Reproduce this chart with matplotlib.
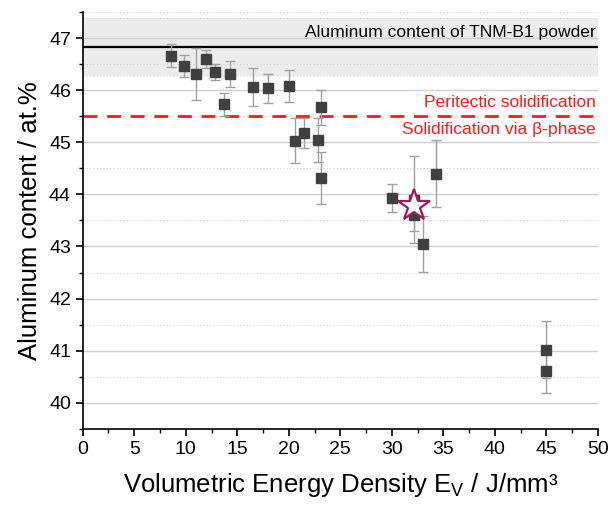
import numpy as np
import matplotlib
matplotlib.use("Agg")
import matplotlib.pyplot as plt

plt.rcParams['font.family'] = ['Liberation Sans', 'DejaVu Sans']
plt.rcParams['mathtext.fontset'] = 'custom'
plt.rcParams['mathtext.rm'] = 'Liberation Sans'

energie = [8.56, 9.85, 11.0, 11.96, 12.83, 13.68, 14.3, 16.5, 18.0, 20.0, 20.6,
           21.5, 22.85, 23.1, 23.1, 30.0, 32.1, 32.1, 33.0, 34.3, 45.0, 45.0]
al_gehalt = [46.66, 46.47, 46.32, 46.60, 46.35, 45.73, 46.32, 46.06, 46.04, 46.08, 45.03,
             45.18, 45.04, 45.67, 44.32, 43.93, 43.90, 43.60, 43.05, 44.40, 41.02, 40.60]
fehler = [0.22, 0.21, 0.50, 0.18, 0.15, 0.22, 0.25, 0.36, 0.28, 0.30, 0.43,
          0.28, 0.42, 0.33, 0.50, 0.26, 0.83, 0.31, 0.54, 0.65, 0.54, 0.41]

stern_x = [32.1]
stern_y = [43.78]

pulver_al = 46.83
pulver_fehler = 0.55
peritektisch = 45.5

fig = plt.figure(figsize=(6.11, 5.05), dpi=100)
ax = fig.add_axes([0.1354, 0.151, 0.8433, 0.825])

# Band um den Pulverwert
ax.axhspan(pulver_al - pulver_fehler, pulver_al + pulver_fehler,
           color='#ececec', zorder=0, lw=0)
for yb in (pulver_al - pulver_fehler, pulver_al + pulver_fehler):
    ax.axhline(yb, color='#d8d8d8', lw=0.8, ls=(0, (1, 2)), zorder=0.5)

# Gitter
ax.set_yticks(np.arange(40, 48, 1))
ax.set_yticks(np.arange(39.5, 48, 0.5), minor=True)
ax.set_xticks(np.arange(0, 51, 5))
ax.set_xticks(np.arange(0, 51, 2.5), minor=True)
ax.grid(True, axis='y', which='major', color='#cfcfcf', lw=1.0, ls='-', zorder=0.6)
ax.grid(True, axis='y', which='minor', color='#d4d4d4', lw=0.8, ls=(0, (1, 2)), zorder=0.6)

ax.axhline(pulver_al, color='black', lw=1.6, zorder=2)
ax.axhline(peritektisch, color='#ff1a1a', lw=2.0, dashes=(5, 3.5), zorder=2)

ax.errorbar(energie, al_gehalt, yerr=fehler, fmt='s', ms=6.8, color='#404040',
            mec='#404040', ecolor='#a0a0a0', elinewidth=1.0, capsize=3.5,
            capthick=1.0, zorder=3)
ax.plot(stern_x, stern_y, marker='*', ms=24, mfc='white', mec='#a3195b',
        mew=1.6, ls='none', zorder=4)

ax.text(49.8, 47.1, 'Aluminum content of TNM-B1 powder', ha='right', va='center',
        fontsize=12.6, color='black')
ax.text(49.8, 45.76, 'Peritectic solidification', ha='right', va='center',
        fontsize=12.6, color='#ff1a1a')
ax.text(49.8, 45.25, 'Solidification via β-phase', ha='right', va='center',
        fontsize=12.6, color='#ff1a1a')

ax.set_xlim(0, 50)
ax.set_ylim(39.5, 47.5)
ax.spines['top'].set_visible(False)
ax.spines['right'].set_visible(False)
ax.spines['left'].set_linewidth(1.2)
ax.spines['bottom'].set_linewidth(1.2)
ax.tick_params(which='major', direction='out', length=5, width=1.2, labelsize=14)
ax.tick_params(which='minor', direction='out', length=3, width=1.0)

ax.set_xlabel(r'Volumetric Energy Density E$_\mathregular{V}$ / J/mm³', fontsize=18.5, labelpad=10)
ax.set_ylabel('Aluminum content / at.%', fontsize=18.5, labelpad=5)

fig.savefig('out.png', dpi=100)
